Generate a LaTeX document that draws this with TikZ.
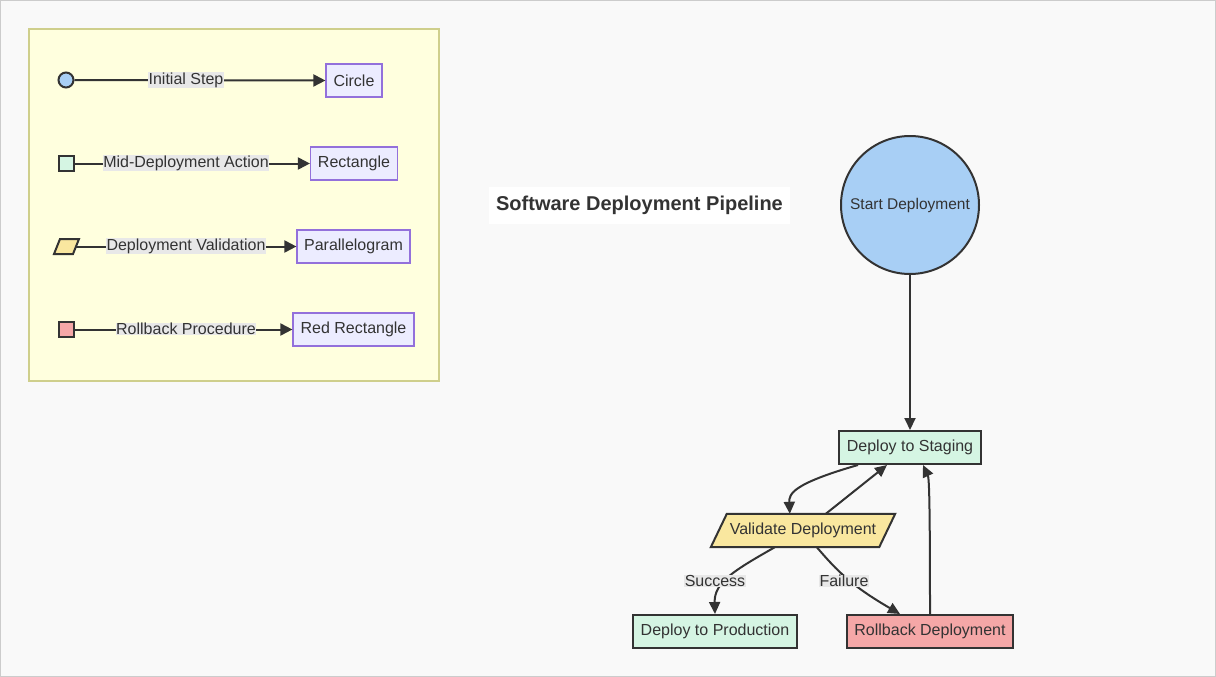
\documentclass[tikz,border=0pt]{standalone}
\usepackage{fontspec}
\setmainfont{Liberation Sans}
\usetikzlibrary{arrows.meta,calc}
\definecolor{bgc}{HTML}{F9F9F9}
\definecolor{txt}{HTML}{333333}
\definecolor{legfill}{HTML}{FFFFDE}
\definecolor{legdraw}{HTML}{CFCF8C}
\definecolor{boxfill}{HTML}{ECECFF}
\definecolor{boxdraw}{HTML}{9370DB}
\definecolor{blue}{HTML}{A8CFF5}
\definecolor{green}{HTML}{D5F5E3}
\definecolor{yellow}{HTML}{F9E79F}
\definecolor{red}{HTML}{F5A7A7}
\definecolor{lblbg}{HTML}{E8E8E8}
\begin{document}
\begin{tikzpicture}[x=1pt,y=-1pt,
  every node/.style={text=txt, font=\fontsize{16}{19}\selectfont},
  legbox/.style={draw=boxdraw, fill=boxfill, line width=1.2pt, minimum height=33pt, inner sep=0pt},
  flowbox/.style={draw=txt, line width=2pt, minimum height=33pt, inner sep=0pt},
  lbl/.style={fill=lblbg, inner sep=0.5pt},
  edge/.style={draw=txt, line width=2pt, -{Triangle[length=12pt,width=11pt]}},
  legedge/.style={draw=txt, line width=2pt, -{Triangle[length=12pt,width=12pt]}},
  icon/.style={draw=txt, line width=2pt, inner sep=0pt}
]
\useasboundingbox (0,0) rectangle (1216,677);
\draw[draw=black!20, fill=bgc, line width=1pt] (0.5,0.5) rectangle (1215.5,676.5);

% legend
\draw[draw=legdraw, fill=legfill, line width=1.6pt] (29,29) rectangle (439,381);

\node[icon, circle, fill=blue, minimum size=15pt] (i1) at (66,80) {};
\node[legbox, minimum width=56pt] (b1) at (354,80.5) {Circle};
\draw[legedge] (i1.east) -- (b1.west);
\node[lbl] (l1) at (186,80) {Initial Step};

\node[icon, rectangle, fill=green, minimum size=15pt] (i2) at (66.5,163.5) {};
\node[legbox, minimum width=87pt] (b2) at (354,163.5) {Rectangle};
\draw[legedge] (i2.east) -- (b2.west);
\node[lbl] (l2) at (186,163) {Mid-Deployment Action};

\coordinate (i3) at (66,246.5);
\draw[icon, fill=yellow, line join=miter] (54,254) -- (60,239) -- (79,239) -- (73,254) -- cycle;
\node[legbox, minimum width=113pt] (b3) at (353.5,246.5) {Parallelogram};
\draw[legedge] (76,246.5) -- (b3.west);
\node[lbl] (l3) at (186,246) {Deployment Validation};

\node[icon, rectangle, fill=red, minimum size=15pt] (i4) at (66.5,329.5) {};
\node[legbox, minimum width=121pt] (b4) at (353.5,329.5) {Red Rectangle};
\draw[legedge] (i4.east) -- (b4.west);
\node[lbl] (l4) at (186,329) {Rollback Procedure};

% title
\node[fill=white, minimum width=301pt, minimum height=37pt, inner sep=0pt,
  font=\fontsize{20}{24}\selectfont\bfseries] (title) at (639.5,205) {Software Deployment Pipeline};

% flow
\node[flowbox, circle, fill=blue, minimum size=138pt] (start) at (910,205) {\fontsize{15.5}{19}\selectfont Start Deployment};
\node[flowbox, fill=green, minimum width=142pt] (st) at (910,447.5) {Deploy to Staging};
\node[minimum width=184pt, minimum height=33pt, inner sep=0pt] (val) at (803,530.5) {};
\draw[draw=txt, fill=yellow, line width=2pt, line join=miter]
  (val.south west) -- ($(val.north west)+(16,0)$) -- (val.north east) -- ($(val.south east)+(-16,0)$) -- cycle;
\node at (val.center) {Validate Deployment};
\node[flowbox, fill=green, minimum width=164pt] (prod) at (715,631.5) {Deploy to Production};
\node[flowbox, fill=red, minimum width=166pt] (rb) at (930,631.5) {Rollback Deployment};

\draw[edge] (start.south) -- (st.north);
\draw[edge] ($(st.south west)+(20,0)$) .. controls (792,484) and (789,494) .. ($(val.north west)+(79,0)$);
\draw[edge] ($(val.north west)+(115,0)$) -- ($(st.south west)+(49,0)$);
\draw[edge] ($(val.south west)+(64,0)$) .. controls (735,570) and (714,582) .. (prod.north);
\draw[edge] ($(val.south west)+(106,0)$) .. controls (838,572) and (852,586) .. ($(rb.north west)+(54,0)$);
\draw[edge] (rb.north) .. controls (930,495) and (929,478) .. ($(st.south east)+(-59,0)$);
\node[lbl] (ls) at (715,581) {Success};
\node[lbl] (lf) at (844,581) {Failure};
\end{tikzpicture}
\end{document}
